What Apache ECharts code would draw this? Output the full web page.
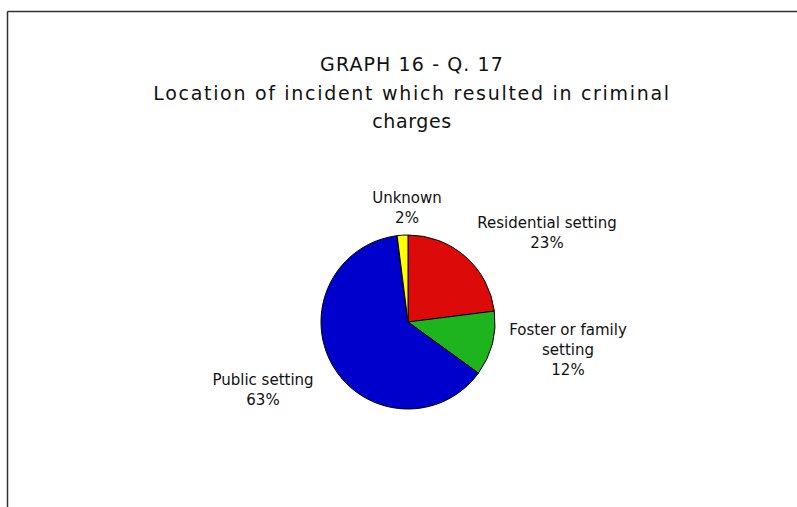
<!DOCTYPE html>
<html>
<head>
<meta charset="utf-8">
<script src="https://cdn.jsdelivr.net/npm/echarts@6/dist/echarts.min.js"></script>
<style>html,body{margin:0;padding:0;background:#fff}#c{width:797px;height:507px}</style>
</head>
<body>
<div id="c"></div>
<script>
const categories = ['Residential setting', 'Foster or family setting', 'Public setting', 'Unknown'];
const values = [23, 12, 63, 2];
const titleLines = ['GRAPH 16 - Q. 17', 'Location of incident which resulted in criminal', 'charges'];

const colors = ['#DD0A0A', '#1EB41E', '#0000CC', '#FFFF00'];
const labelPos = [[547, 233], [568, 350], [263, 390], [407, 208]];
const titleSpacing = ['1.1px', '1.7px', '0.6px'];

const chart = echarts.init(document.getElementById('c'), null, {renderer: 'svg'});
chart.setOption({
  animation: false,
  backgroundColor: '#fff',
  title: {
    text: titleLines.join('\n'),
    left: 407,
    top: 45,
    textAlign: 'center',
    textStyle: {fontFamily: 'DejaVu Sans', fontSize: 19, fontWeight: 'normal', color: '#111', lineHeight: 28.5}
  },
  graphic: [
    {type: 'line', shape: {x1: 7.5, y1: 11.5, x2: 800, y2: 11.5}, style: {stroke: '#333', lineWidth: 1.5}},
    {type: 'line', shape: {x1: 7.5, y1: 11.5, x2: 7.5, y2: 510}, style: {stroke: '#333', lineWidth: 1.5}}
  ],
  series: [{
    type: 'pie',
    center: [408, 322],
    radius: 87,
    startAngle: 90,
    clockwise: true,
    color: colors,
    itemStyle: {borderColor: '#000', borderWidth: 1},
    label: {
      show: true,
      position: 'outside',
      fontFamily: 'DejaVu Sans',
      fontSize: 15,
      color: '#111',
      lineHeight: 20,
      align: 'center',
      formatter: p => p.name.replace('Foster or family setting', 'Foster or family\nsetting') + '\n' + p.value + '%'
    },
    labelLine: {show: false},
    labelLayout: p => ({x: labelPos[p.dataIndex][0], y: labelPos[p.dataIndex][1], align: 'center', verticalAlign: 'middle'}),
    data: categories.map((c, i) => ({name: c, value: values[i]}))
  }]
});
// per-line letter spacing for title text (style only)
document.querySelectorAll('#c text').forEach(t => {
  const i = titleLines.indexOf(t.textContent);
  if (i >= 0) t.style.letterSpacing = titleSpacing[i];
});
</script>
</body>
</html>
